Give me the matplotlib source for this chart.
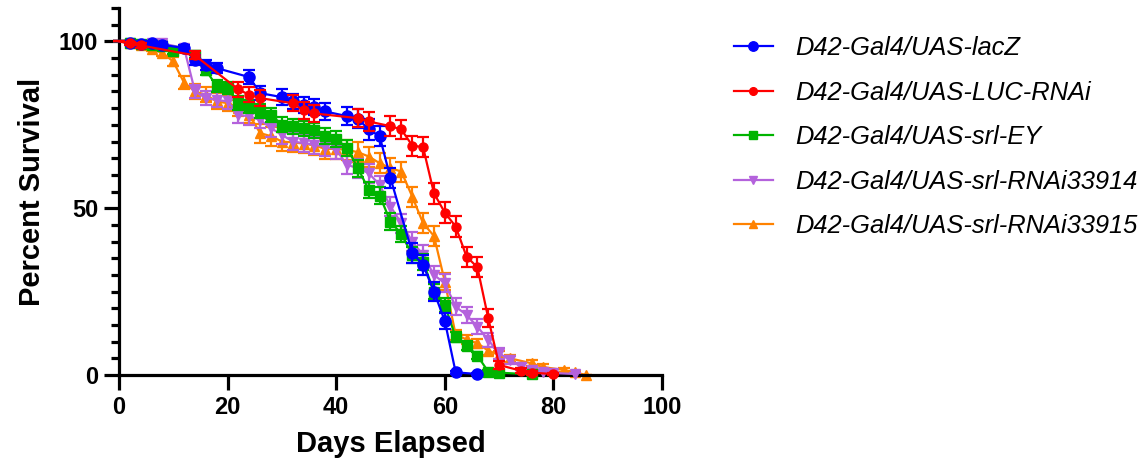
import matplotlib
matplotlib.use("Agg")
import matplotlib.pyplot as plt
from matplotlib.lines import Line2D
from matplotlib.ticker import MultipleLocator

# --- data (days, percent survival, error) ---
labels = [
    "D42-Gal4/UAS-lacZ",
    "D42-Gal4/UAS-LUC-RNAi",
    "D42-Gal4/UAS-srl-EY",
    "D42-Gal4/UAS-srl-RNAi33914",
    "D42-Gal4/UAS-srl-RNAi33915",
]

lacz_days = [0, 2, 4, 6, 8, 12, 14, 16, 18, 24, 26, 30, 32, 34, 36, 38, 42, 44, 46, 48, 50, 54, 56, 58, 60, 62, 66]
lacz_pct = [100, 99.6, 99.3, 99.4, 99, 98, 94.5, 93, 92, 89.3, 84.5, 83.3, 82, 81, 80.3, 79, 77.6, 76.8, 73.6, 71.6,
            59, 36.7, 33, 25, 16.2, 0.8, 0.3]
lacz_err = [0, 0.4, 0.6, 0.6, 0.8, 1, 1.5, 1.5, 1.5, 2, 2.2, 2.3, 2.3, 2.4, 2.4, 2.5, 2.7, 2.8, 3, 3,
            3, 3, 3, 2.8, 2.3, 0.4, 0.2]

luc_days = [0, 2, 4, 14, 22, 24, 26, 32, 34, 36, 44, 46, 50, 52, 54, 56, 58, 60, 62, 64, 66, 68, 70, 74, 76, 80]
luc_pct = [100, 99.4, 98.8, 95.8, 85.6, 84, 83, 81.5, 79.3, 78.4, 77, 76, 74.6, 73.6, 68.8, 68.3, 54.5, 48.7,
           44.5, 35.5, 32.3, 17, 3, 1.3, 0.7, 0.3]
luc_err = [0, 0.5, 0.7, 1.2, 2.2, 2.3, 2.4, 2.5, 2.6, 2.6, 2.8, 2.8, 2.9, 2.9, 3, 3, 3.1, 3.1,
           3.1, 3, 3, 2.7, 1.3, 0.8, 0.6, 0.3]

ey_days = [0, 2, 4, 6, 8, 10, 14, 16, 18, 20, 22, 24, 26, 28, 30, 32, 34, 36, 38, 40, 42, 44, 46, 48, 50, 52,
           54, 56, 58, 60, 62, 64, 66, 68, 70, 76]
ey_pct = [100, 99.6, 99.2, 99, 98.5, 97, 96, 91.5, 86.5, 86, 81.5, 80.5, 79, 78, 75, 74.5, 74, 73.3, 71.7, 70.8,
          68, 62, 55.5, 53.8, 46, 42.3, 36, 34, 25, 21, 11.3, 8.8, 5.8, 1, 0.7, 0.2]
ey_err = [0, 0.4, 0.5, 0.6, 0.7, 0.9, 1, 1.5, 1.8, 1.8, 2, 2, 2.1, 2.1, 2.2, 2.2, 2.2, 2.2, 2.3, 2.3,
          2.4, 2.5, 2.5, 2.5, 2.5, 2.5, 2.4, 2.4, 2.3, 2.1, 1.5, 1.3, 1, 0.5, 0.4, 0.2]

r914_days = [0, 2, 6, 8, 12, 14, 16, 18, 20, 22, 24, 26, 28, 30, 32, 34, 36, 38, 40, 42, 44, 46, 48, 50, 52,
             54, 56, 58, 60, 62, 64, 66, 68, 70, 72, 74, 76, 78, 80, 84]
r914_pct = [100, 99.6, 99.6, 99.4, 98, 85, 83, 82.5, 82, 78, 77.5, 76.5, 74, 72, 70, 69.5, 69, 68.5, 67.5, 63,
            62, 60.5, 57, 50.5, 45.5, 40, 36, 30, 27.5, 20.5, 18, 14.5, 10.5, 6.5, 4.5, 2.5, 1.5, 1, 0.6, 0.3]
r914_err = [0, 0.4, 0.5, 0.6, 1, 2, 2.2, 2.3, 2.3, 2.5, 2.5, 2.5, 2.6, 2.6, 2.6, 2.6, 2.7, 2.7, 2.7, 2.8,
            2.8, 2.8, 2.8, 2.9, 2.9, 2.9, 2.9, 2.8, 2.7, 2.5, 2.4, 2.2, 2, 1.6, 1.3, 1, 0.8, 0.6, 0.4, 0.3]

r915_days = [0, 2, 4, 6, 8, 10, 12, 14, 16, 18, 20, 22, 24, 26, 28, 30, 32, 34, 36, 38, 40, 42, 44, 46, 48,
             50, 52, 54, 56, 58, 60, 62, 64, 66, 68, 70, 72, 76, 78, 82, 84, 86]
r915_pct = [100, 99.5, 98.8, 97.8, 96.5, 94, 87.6, 85, 84, 82, 81.5, 80, 78, 72.5, 71.6, 70, 69.7, 69.4, 68.8,
            67.8, 67.8, 67.5, 66.8, 65.5, 63.5, 62, 61, 53.5, 45.5, 41.7, 28, 12, 10.7, 9.5, 7.3, 6, 5, 3.5,
            2.4, 1.5, 0.8, 0]
r915_err = [0, 0.4, 0.6, 0.8, 1, 1.4, 2, 2.2, 2.3, 2.4, 2.5, 2.5, 2.6, 2.8, 2.8, 2.8, 2.9, 2.9, 2.9,
            2.9, 3, 3, 3, 3, 3, 3, 3, 3, 3, 3, 2.5, 1.5, 1.4, 1.3, 1.2, 1.1, 1, 0.9,
            0.8, 0.6, 0.4, 0]

series = [
    (lacz_days, lacz_pct, lacz_err),
    (luc_days, luc_pct, luc_err),
    (ey_days, ey_pct, ey_err),
    (r914_days, r914_pct, r914_err),
    (r915_days, r915_pct, r915_err),
]
colors = ["#0000FF", "#FF0000", "#00B400", "#B462DC", "#FF8200"]
markers = ["o", "o", "s", "v", "^"]
msizes = [8, 6.5, 6.5, 7, 7]
zorders = [4, 5, 3, 2.5, 2]

plt.rcParams["font.family"] = ["Liberation Sans", "DejaVu Sans"]

fig = plt.figure(figsize=(11.46, 4.75), dpi=100)
ax = fig.add_axes([0.1038, 0.2105, 0.4739, 0.7725])

for (d, p, e), c, m, ms, z in zip(series, colors, markers, msizes, zorders):
    ax.errorbar(d, p, yerr=e, color=c, marker=m, markersize=ms, markevery=slice(1, None),
                linewidth=1.6, elinewidth=1.6, capsize=4, capthick=1.6, zorder=z,
                clip_on=False)

ax.set_xlim(0, 100)
ax.set_ylim(0, 110)
ax.set_xticks([0, 20, 40, 60, 80, 100])
ax.set_yticks([0, 50, 100])
ax.yaxis.set_minor_locator(MultipleLocator(5))

for side in ["top", "right"]:
    ax.spines[side].set_visible(False)
for side in ["left", "bottom"]:
    ax.spines[side].set_linewidth(2.3)

ax.tick_params(axis="both", which="major", length=11, width=2.3, labelsize=17, pad=4)
ax.tick_params(axis="y", which="minor", length=6, width=2.3)
for t in ax.get_xticklabels() + ax.get_yticklabels():
    t.set_fontweight("bold")

ax.set_xlabel("Days Elapsed", fontsize=21, fontweight="bold", labelpad=8)
ax.set_ylabel("Percent Survival", fontsize=21, fontweight="bold", labelpad=9)

# legend shows line + marker only (no error bars)
handles = [Line2D([], [], color=c, marker=m, markersize=ms * 0.85, linewidth=1.6)
           for c, m, ms in zip(colors, markers, msizes)]
fig.legend(handles, labels, loc="upper left", bbox_to_anchor=(0.62, 0.972), frameon=False,
           prop={"size": 18.4, "style": "italic"}, handlelength=1.55, handletextpad=0.85,
           labelspacing=0.8)

fig.savefig("out.png", dpi=100)
